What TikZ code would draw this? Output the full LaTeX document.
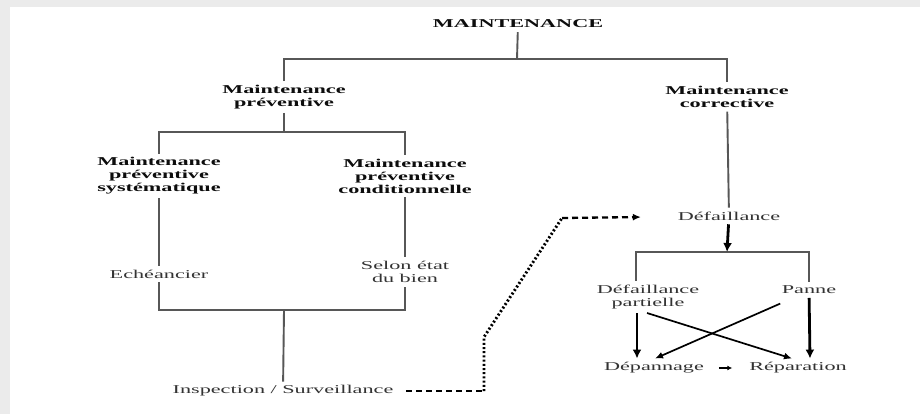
\documentclass[tikz,border=0pt]{standalone}
\usepackage{fontspec}
\setmainfont{Liberation Serif}[FakeStretch=1.85]
\usetikzlibrary{arrows.meta, positioning}

\begin{document}
\begin{tikzpicture}[x=1pt, y=-1pt,
    every node/.style={font=\fontsize{12}{13}\selectfont, align=center, inner sep=1pt, outer sep=3pt, text=black!80},
    head/.style={font=\fontsize{12}{13}\selectfont\bfseries, text=black!95},
    tree/.style={draw=black!66, line width=1.9pt},
    bigarrow/.style={line width=2.8pt, -{Latex[length=9pt,width=9pt]}},
    crossarrow/.style={line width=1.7pt, -{Latex[length=8pt,width=7pt]}},
    trace/.style={line width=2.3pt, dash pattern=on 6pt off 4pt},
    dottrace/.style={line width=2.9pt, dash pattern=on 2pt off 2.2pt}]
    % card background
    \fill[black!8] (0,0) rectangle (920,414);
    \fill[white] (10,7) rectangle (920,414);
    \useasboundingbox (0,0) rectangle (920,414);

    % headings
    \node[head] (maint) at (518,24) {MAINTENANCE};
    \node[head] (prev) at (284,97) {Maintenance\\préventive};
    \node[head] (corr) at (727,97) {Maintenance\\corrective};
    \node[head] (syst) at (159,176) {Maintenance\\préventive\\systématique};
    \node[head] (cond) at (405,176) {Maintenance\\préventive\\conditionnelle};

    % plain labels
    \node (ech) at (159,274) {Echéancier};
    \node (selon) at (405,272) {Selon état\\du bien};
    \node (insp) at (283,391) {Inspection / Surveillance};
    \node (def) at (729,216) {Défaillance};
    \node (defp) at (648,297) {Défaillance\\partielle};
    \node (panne) at (809,290) {Panne};
    \node (dep) at (654,368) {Dépannage};
    \node (rep) at (798,368) {Réparation};

    % junctions and bends
    \coordinate (jtop) at (517,59);
    \coordinate (jprev) at (284,132);
    \coordinate (jbot) at (284,310);
    \coordinate (jcorr) at (727,252);
    \coordinate (bend1) at (484,391);
    \coordinate (bend2) at (484,337);
    \coordinate (bend3) at (562,218);

    % tree
    \draw[tree] (maint) -- (jtop);
    \draw[tree] (prev) |- (jtop) -| (corr);
    \draw[tree] (prev) -- (jprev);
    \draw[tree] (syst) |- (jprev) -| (cond);
    \draw[tree] (syst) -- (ech);
    \draw[tree] (cond) -- (selon);
    \draw[tree] (ech) |- (jbot) -| (selon);
    \draw[tree] (jbot) -- (insp);
    \draw[tree] (corr) -- (def);
    \draw[tree] ([xshift=-12pt]defp.north) |- (jcorr) -| (panne);

    % corrective arrows
    \draw[bigarrow] (def) -- (jcorr);
    \draw[bigarrow] ([xshift=-11pt]defp.south) -- ([xshift=-17pt]dep.north);
    \draw[bigarrow] (panne) -- ([xshift=12pt]rep.north);
    \draw[crossarrow] ([xshift=-1pt]defp.south) -- ([xshift=-6pt]rep.north);
    \draw[crossarrow, shorten <=14pt] ([xshift=-16pt]panne.south) -- ([xshift=1pt]dep.north);
    \draw[line width=1.3pt, -{Latex[length=5pt,width=5pt]}, shorten <=11pt, shorten >=13pt] (dep) -- (rep);

    % inspection trace
    \draw[trace, shorten <=9pt] (insp) -- (bend1);
    \draw[dottrace] (bend1) -- (bend2) -- (bend3);
    \draw[trace, -{Latex[length=8pt,width=7pt]}, shorten >=33pt] (bend3) -- (def);
\end{tikzpicture}
\end{document}
